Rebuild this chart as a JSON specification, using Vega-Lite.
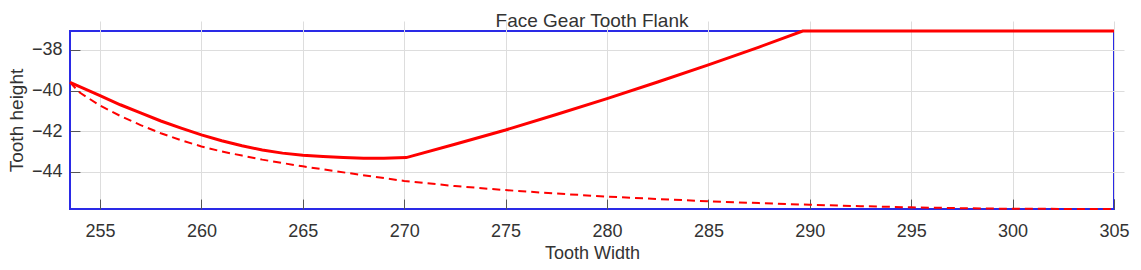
{
  "$schema": "https://vega.github.io/schema/vega-lite/v6.json",
  "width": 1044,
  "height": 178,
  "autosize": {"type": "none"},
  "padding": {"left": 70, "top": 31, "right": 27, "bottom": 61},
  "title": {"text": "Face Gear Tooth Flank", "fontSize": 19, "font": "Liberation Sans", "fontWeight": "normal", "color": "#333333", "offset": 4, "dy": 10},
  "config": {
    "view": {"stroke": "#2a2ae6", "strokeWidth": 2},
    "axis": {
      "domain": false,
      "gridColor": "#dddddd",
      "gridWidth": 1,
      "tickColor": "#555555",
      "tickSize": 10,
      "offset": -10,
      "labelFont": "Liberation Sans",
      "labelFontSize": 18,
      "labelColor": "#333333",
      "labelFlush": false,
      "titleFont": "Liberation Sans",
      "titleFontSize": 18,
      "titleFontWeight": "normal",
      "titleColor": "#333333"
    }
  },
  "data": {"values": [
    {"s": "solid", "x": 253.52, "y": -39.6},
    {"s": "solid", "x": 255, "y": -40.25},
    {"s": "solid", "x": 256, "y": -40.7},
    {"s": "solid", "x": 257, "y": -41.1},
    {"s": "solid", "x": 258, "y": -41.5},
    {"s": "solid", "x": 259, "y": -41.85},
    {"s": "solid", "x": 260, "y": -42.18},
    {"s": "solid", "x": 261, "y": -42.47},
    {"s": "solid", "x": 262, "y": -42.72},
    {"s": "solid", "x": 263, "y": -42.93},
    {"s": "solid", "x": 264, "y": -43.08},
    {"s": "solid", "x": 265, "y": -43.18},
    {"s": "solid", "x": 266, "y": -43.25},
    {"s": "solid", "x": 267, "y": -43.3},
    {"s": "solid", "x": 268, "y": -43.33},
    {"s": "solid", "x": 269, "y": -43.33},
    {"s": "solid", "x": 270.1, "y": -43.3},
    {"s": "solid", "x": 272.5, "y": -42.64},
    {"s": "solid", "x": 275, "y": -41.94},
    {"s": "solid", "x": 277.5, "y": -41.18},
    {"s": "solid", "x": 280, "y": -40.4},
    {"s": "solid", "x": 282.5, "y": -39.58},
    {"s": "solid", "x": 285, "y": -38.74},
    {"s": "solid", "x": 287.5, "y": -37.86},
    {"s": "solid", "x": 289.65, "y": -37.07},
    {"s": "solid", "x": 305, "y": -37.07},
    {"s": "dashed", "x": 253.52, "y": -39.6},
    {"s": "dashed", "x": 254, "y": -40.1},
    {"s": "dashed", "x": 255, "y": -40.74},
    {"s": "dashed", "x": 256, "y": -41.25},
    {"s": "dashed", "x": 257, "y": -41.7},
    {"s": "dashed", "x": 258, "y": -42.1},
    {"s": "dashed", "x": 259, "y": -42.45},
    {"s": "dashed", "x": 260, "y": -42.75},
    {"s": "dashed", "x": 261, "y": -43.0},
    {"s": "dashed", "x": 262, "y": -43.2},
    {"s": "dashed", "x": 263, "y": -43.4},
    {"s": "dashed", "x": 264, "y": -43.57},
    {"s": "dashed", "x": 265, "y": -43.73},
    {"s": "dashed", "x": 267.5, "y": -44.1},
    {"s": "dashed", "x": 270, "y": -44.45},
    {"s": "dashed", "x": 272.5, "y": -44.7},
    {"s": "dashed", "x": 275, "y": -44.9},
    {"s": "dashed", "x": 277.5, "y": -45.07},
    {"s": "dashed", "x": 280, "y": -45.22},
    {"s": "dashed", "x": 282.5, "y": -45.34},
    {"s": "dashed", "x": 285, "y": -45.45},
    {"s": "dashed", "x": 287.5, "y": -45.54},
    {"s": "dashed", "x": 290, "y": -45.62},
    {"s": "dashed", "x": 292.5, "y": -45.69},
    {"s": "dashed", "x": 295, "y": -45.75},
    {"s": "dashed", "x": 297.5, "y": -45.79},
    {"s": "dashed", "x": 300, "y": -45.82},
    {"s": "dashed", "x": 305, "y": -45.83}
  ]},
  "encoding": {
    "x": {"field": "x", "type": "quantitative",
      "scale": {"domain": [253.52, 305], "nice": false, "zero": false},
      "axis": {"title": "Tooth Width", "values": [255, 260, 265, 270, 275, 280, 285, 290, 295, 300, 305], "labelPadding": 13, "titlePadding": 4}},
    "y": {"field": "y", "type": "quantitative",
      "scale": {"domain": [-45.83, -37.07], "nice": false, "zero": false},
      "axis": {"title": "Tooth height", "titleFontSize": 19, "values": [-38, -40, -42, -44], "labelPadding": 8, "titlePadding": 5}}
  },
  "layer": [
    {"transform": [{"filter": "datum.s === 'dashed'"}],
     "mark": {"type": "line", "color": "#ff0000", "strokeWidth": 2, "strokeDash": [8, 5]}},
    {"transform": [{"filter": "datum.s === 'solid'"}],
     "mark": {"type": "line", "color": "#ff0000", "strokeWidth": 3}}
  ]
}
